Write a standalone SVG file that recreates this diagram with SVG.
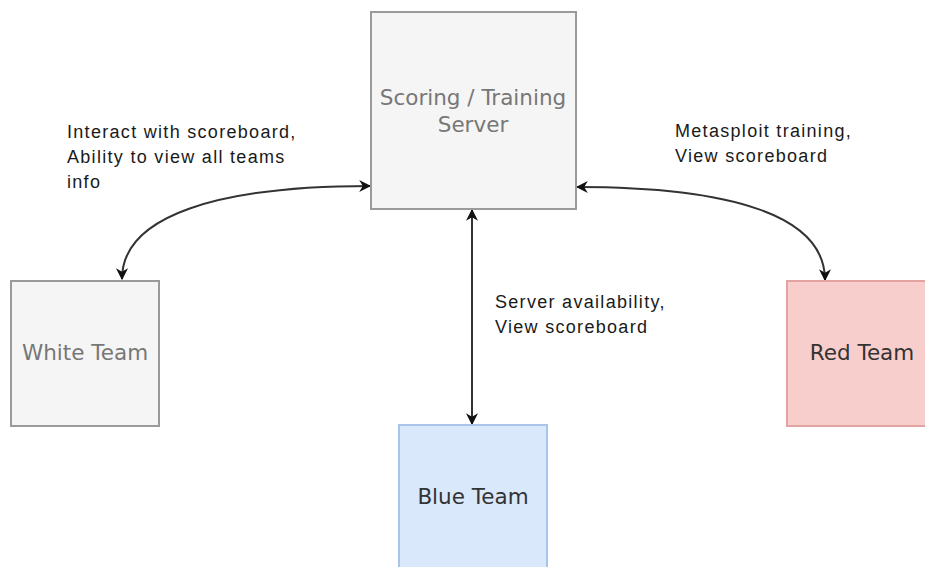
<svg xmlns="http://www.w3.org/2000/svg" width="925" height="567" viewBox="0 0 925 567">
<style>
.node{stroke-width:2}
.grey{fill:#f5f5f5;stroke:#9a9a9a}
.blue{fill:#dae8fc;stroke:#a9c4eb}
.red{fill:#f8cecc;stroke:#e3a3a1}
.nl{font-family:"DejaVu Sans",sans-serif;font-size:21.5px;text-anchor:middle}
.lbl{font-family:"Liberation Sans",Arial,sans-serif;font-size:18px;letter-spacing:1.3px;fill:#1a1a1a}
.conn{fill:none;stroke:#333;stroke-width:2}
</style>
<defs>
<marker id="ah" viewBox="0 0 10 10" refX="9" refY="5" markerWidth="12" markerHeight="12" orient="auto-start-reverse" markerUnits="userSpaceOnUse">
<path d="M0,0 L10,5 L0,10 L3,5 Z" fill="#111"/>
</marker>
</defs>
<rect width="925" height="567" fill="#ffffff"/>
<g id="connectors">
<path class="conn" d="M122,279 C122,215 220,186 370,186" marker-start="url(#ah)" marker-end="url(#ah)"/>
<path class="conn" d="M825,280 C825,215 730,187 577,187" marker-start="url(#ah)" marker-end="url(#ah)"/>
<path class="conn" d="M472,210 L472,424" marker-start="url(#ah)" marker-end="url(#ah)"/>
</g>
<g id="server">
<rect class="node grey" x="371" y="12" width="205" height="197"/>
<text class="nl" x="473" y="105" fill="#777">Scoring / Training</text>
<text class="nl" x="473" y="132" fill="#777">Server</text>
</g>
<g id="white-team">
<rect class="node grey" x="11" y="281" width="148" height="145"/>
<text class="nl" x="85" y="360" fill="#777">White Team</text>
</g>
<g id="blue-team">
<rect class="node blue" x="399" y="425" width="148" height="150"/>
<text class="nl" x="473" y="504" fill="#333">Blue Team</text>
</g>
<g id="red-team">
<rect class="node red" x="787" y="281" width="150" height="145"/>
<text class="nl" x="862" y="360" fill="#333">Red Team</text>
</g>
<g id="labels">
<text class="lbl" x="67" y="138">Interact with scoreboard,</text>
<text class="lbl" x="67" y="163">Ability to view all teams</text>
<text class="lbl" x="67" y="188">info</text>
<text class="lbl" x="675" y="137">Metasploit training,</text>
<text class="lbl" x="675" y="162">View scoreboard</text>
<text class="lbl" x="495" y="308">Server availability,</text>
<text class="lbl" x="495" y="333">View scoreboard</text>
</g>
</svg>
